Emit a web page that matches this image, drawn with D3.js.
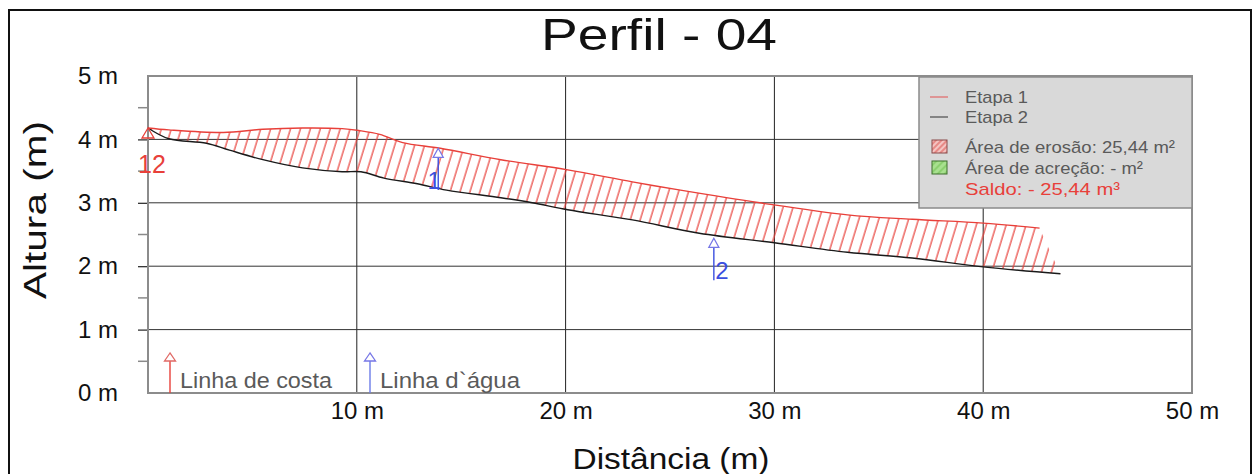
<!DOCTYPE html>
<html><head><meta charset="utf-8">
<script src="https://cdn.jsdelivr.net/npm/d3@7"></script>
<style>
body{margin:0;background:#fff}
svg{display:block;font-family:"Liberation Sans",Arial,Helvetica,sans-serif}
</style>
</head><body>
<svg id="chart" width="1253" height="474"></svg>
<script>
// Profile survey: two stages of the beach profile (distance in m, height in m)
const etapa1X = [0, 1.0, 3.6, 5.5, 7.4, 9.3, 10.1, 11.1, 12.2, 14.0, 16.9, 20.1, 23.2, 25.5, 29.3, 33.5, 36.6, 40.0, 42.7];
const etapa1Y = [4.18, 4.15, 4.11, 4.16, 4.18, 4.17, 4.14, 4.08, 3.95, 3.86, 3.68, 3.52, 3.33, 3.20, 3.00, 2.81, 2.74, 2.68, 2.60];
const etapa2X = [0, 1.0, 2.8, 3.9, 5.5, 7.4, 9.3, 10.2, 11.3, 12.9, 14.3, 16.9, 18.4, 20.1, 23.2, 26.4, 30.0, 33.5, 36.6, 40.0, 43.7];
const etapa2Y = [4.18, 4.01, 3.94, 3.83, 3.68, 3.55, 3.49, 3.49, 3.39, 3.30, 3.20, 3.08, 3.00, 2.89, 2.73, 2.52, 2.37, 2.22, 2.13, 1.99, 1.88];

// Reference marks along the profile (shoreline "12", water line "1" and "2")
const markLabels = ["1", "2"];
const markX = [13.9, 27.1];
const markTop = [3.86, 2.44];
const markBottom = [3.2, 1.78];
const shoreLabel = "12";
const shoreX = 0;
const shoreY = 4.18;

const xTicks = [10, 20, 30, 40, 50];
const yTicks = [0, 1, 2, 3, 4, 5];
const yMinor = [0.5, 1.5, 2.5, 3.5, 4.5];
const tickLabel = d => d + " m";

const legendItems = ["Etapa 1", "Etapa 2"];
const areaItems = ["Área de erosão: 25,44 m²", "Área de acreção: - m²"];
const saldoText = "Saldo: - 25,44 m³";

const RED = "#e8403a", BLUE = "#3b4fe0", TRI_BLUE = "#7777e6", GRAY_TXT = "#5a5a5a";

const svg = d3.select("#chart");
const x = d3.scaleLinear([0, 50], [148, 1192]);
const y = d3.scaleLinear([0, 5], [393, 76]);

// outer frame
svg.append("rect").attr("x", 9).attr("y", 10).attr("width", 1242).attr("height", 470)
  .attr("fill", "none").attr("stroke", "#111").attr("stroke-width", 2);

// hatch patterns
const defs = svg.append("defs");
const hatch = defs.append("pattern").attr("id", "hatch").attr("patternUnits", "userSpaceOnUse")
  .attr("width", 9.5).attr("height", 10).attr("patternTransform", "rotate(17)");
hatch.append("line").attr("x1", 2).attr("y1", -1).attr("x2", 2).attr("y2", 11)
  .attr("stroke", RED).attr("stroke-width", 1.2);
const hatchG = defs.append("pattern").attr("id", "hatchG").attr("patternUnits", "userSpaceOnUse")
  .attr("width", 5).attr("height", 5).attr("patternTransform", "rotate(45)");
hatchG.append("rect").attr("width", 5).attr("height", 5).attr("fill", "#a8e08f");
hatchG.append("line").attr("x1", 1).attr("y1", 0).attr("x2", 1).attr("y2", 5)
  .attr("stroke", "#6fc04f").attr("stroke-width", 1);
const hatchR = defs.append("pattern").attr("id", "hatchR").attr("patternUnits", "userSpaceOnUse")
  .attr("width", 4).attr("height", 4).attr("patternTransform", "rotate(45)");
hatchR.append("rect").attr("width", 4).attr("height", 4).attr("fill", "#f4c4c2");
hatchR.append("line").attr("x1", 1).attr("y1", 0).attr("x2", 1).attr("y2", 4)
  .attr("stroke", "#e06a66").attr("stroke-width", 1.3);

// grid
const grid = svg.append("g");
grid.selectAll(".vg").data(xTicks.filter(d => d < 50)).join("line")
  .attr("x1", d => x(d)).attr("x2", d => x(d)).attr("y1", y(5)).attr("y2", y(0))
  .attr("stroke", "#222").attr("stroke-width", 1);
grid.selectAll(".hg").data(yTicks.filter(d => d > 0 && d < 5)).join("line")
  .attr("x1", x(0)).attr("x2", x(50)).attr("y1", d => y(d)).attr("y2", d => y(d))
  .attr("stroke", "#333").attr("stroke-width", 1);

// y axis: major ticks and labels
const yAxis = svg.append("g").attr("transform", `translate(${x(0)},0)`)
  .call(d3.axisLeft(y).tickValues(yTicks).tickFormat(tickLabel).tickSize(10).tickPadding(20));
yAxis.select(".domain").remove();
yAxis.selectAll(".tick line").attr("stroke", "#222").attr("stroke-width", 1.2)
  .attr("display", d => (d === 0 || d === 5) ? "none" : null);
yAxis.selectAll(".tick text").attr("font-size", 24).attr("fill", "#111")
  .attr("font-family", "Liberation Sans, Arial, sans-serif");
// minor ticks
svg.append("g").selectAll("line").data(yMinor).join("line")
  .attr("x1", x(0) - 10).attr("x2", x(0)).attr("y1", d => y(d)).attr("y2", d => y(d))
  .attr("stroke", "#8a8a8a").attr("stroke-width", 1.5);

// x axis labels
const xAxis = svg.append("g").attr("transform", `translate(0,${y(0)})`)
  .call(d3.axisBottom(x).tickValues(xTicks).tickFormat(tickLabel).tickSize(0).tickPadding(9));
xAxis.select(".domain").remove();
xAxis.selectAll(".tick text").attr("font-size", 24).attr("fill", "#111")
  .attr("font-family", "Liberation Sans, Arial, sans-serif");

// plot frame
svg.append("rect").attr("x", x(0)).attr("y", y(5)).attr("width", x(50) - x(0)).attr("height", y(0) - y(5))
  .attr("fill", "none").attr("stroke", "#8c8c8c").attr("stroke-width", 2);

// erosion area between stage 1 (top) and stage 2 (bottom)
const p1 = etapa1X.map((d, i) => [d, etapa1Y[i]]);
const p2 = etapa2X.map((d, i) => [d, etapa2Y[i]]);
const line = d3.line().x(d => x(d[0])).y(d => y(d[1])).curve(d3.curveCatmullRom.alpha(0.5));
const areaPath = line(p1) + "L" + line(p2.slice().reverse()).slice(1) + "Z";
svg.append("path").attr("d", areaPath).attr("fill", "url(#hatch)").attr("stroke", "none");
svg.append("path").attr("d", line(p2)).attr("fill", "none").attr("stroke", "#1a1a1a").attr("stroke-width", 1.4);
svg.append("path").attr("d", line(p1)).attr("fill", "none").attr("stroke", RED).attr("stroke-width", 1.4);

// triangle arrow head helper
const tri = (cx, top, w, h) => `M${cx},${top}L${cx - w / 2},${top + h}L${cx + w / 2},${top + h}Z`;

// shoreline mark at the start of the profile
svg.append("path").attr("d", tri(x(shoreX), y(shoreY), 12, 10))
  .attr("fill", "none").attr("stroke", RED).attr("stroke-width", 1.3);
svg.append("text").attr("x", x(shoreX) - 10).attr("y", y(shoreY) + 45).text(shoreLabel)
  .attr("font-size", 25).attr("fill", RED);

// water line marks
const marks = svg.append("g").selectAll("g").data(markLabels).join("g");
marks.append("line")
  .attr("x1", (d, i) => x(markX[i])).attr("x2", (d, i) => x(markX[i]))
  .attr("y1", (d, i) => y(markTop[i]) + 9).attr("y2", (d, i) => y(markBottom[i]))
  .attr("stroke", BLUE).attr("stroke-width", 1.4);
marks.append("path").attr("d", (d, i) => tri(x(markX[i]), y(markTop[i]), 10, 9))
  .attr("fill", "#fff").attr("stroke", TRI_BLUE).attr("stroke-width", 1.3);
marks.append("text")
  .attr("x", (d, i) => x(markX[i]) + (i === 0 ? -4 : 8))
  .attr("y", (d, i) => y(markBottom[i]) - 1)
  .attr("text-anchor", "middle").attr("font-size", 24).attr("fill", BLUE).text(d => d);

// bottom key for the marks
const keyArrows = [{ px: 170, c: RED, tc: "#e06a66", label: "Linha de costa", len: 152 },
                   { px: 370, c: "#6b7be8", tc: TRI_BLUE, label: "Linha d`água", len: 140 }];
keyArrows.forEach(k => {
  svg.append("line").attr("x1", k.px).attr("x2", k.px).attr("y1", 361).attr("y2", y(0))
    .attr("stroke", k.c).attr("stroke-width", 1.4);
  svg.append("path").attr("d", tri(k.px, 353, 11, 8)).attr("fill", "#fff").attr("stroke", k.tc).attr("stroke-width", 1.3);
  svg.append("text").attr("x", k.px + 10).attr("y", 388).text(k.label)
    .attr("font-size", 22).attr("fill", GRAY_TXT).attr("textLength", k.len).attr("lengthAdjust", "spacingAndGlyphs");
});

// legend
const lg = svg.append("g");
lg.append("rect").attr("x", 919).attr("y", 77).attr("width", 273).attr("height", 131)
  .attr("fill", "#d9d9d9").attr("stroke", "#8a8a8a").attr("stroke-width", 1.5);
const lgColors = ["#e07070", "#555"];
legendItems.forEach((t, i) => {
  const cy = 97 + i * 20;
  lg.append("line").attr("x1", 930).attr("x2", 948).attr("y1", cy).attr("y2", cy)
    .attr("stroke", lgColors[i]).attr("stroke-width", 1.3);
  lg.append("text").attr("x", 965).attr("y", cy + 6).text(t).attr("font-size", 17)
    .attr("fill", GRAY_TXT).attr("textLength", 63).attr("lengthAdjust", "spacingAndGlyphs");
});
const areaFills = ["url(#hatchR)", "url(#hatchG)"];
const areaStroke = ["#8a4a4a", "#3c6e2c"];
const areaLen = [210, 178];
areaItems.forEach((t, i) => {
  const cy = 147 + i * 21;
  lg.append("rect").attr("x", 932).attr("y", cy - 7).attr("width", 15).attr("height", 13)
    .attr("fill", areaFills[i]).attr("stroke", areaStroke[i]).attr("stroke-width", 1);
  lg.append("text").attr("x", 965).attr("y", cy + 6).text(t).attr("font-size", 17)
    .attr("fill", GRAY_TXT).attr("textLength", areaLen[i]).attr("lengthAdjust", "spacingAndGlyphs");
});
lg.append("text").attr("x", 965).attr("y", 195).text(saldoText).attr("font-size", 17)
  .attr("fill", RED).attr("textLength", 155).attr("lengthAdjust", "spacingAndGlyphs");

// titles
svg.append("text").attr("x", 659).attr("y", 50).attr("text-anchor", "middle").text("Perfil - 04")
  .attr("font-size", 45).attr("fill", "#111").attr("textLength", 236).attr("lengthAdjust", "spacingAndGlyphs");
svg.append("text").attr("x", 671).attr("y", 469).attr("text-anchor", "middle").text("Distância (m)")
  .attr("font-size", 30).attr("fill", "#111").attr("textLength", 197).attr("lengthAdjust", "spacingAndGlyphs");
svg.append("text").attr("transform", "translate(46,210) rotate(-90)").attr("text-anchor", "middle").text("Altura (m)")
  .attr("font-size", 31).attr("fill", "#111").attr("textLength", 178).attr("lengthAdjust", "spacingAndGlyphs");
</script>
</body></html>
